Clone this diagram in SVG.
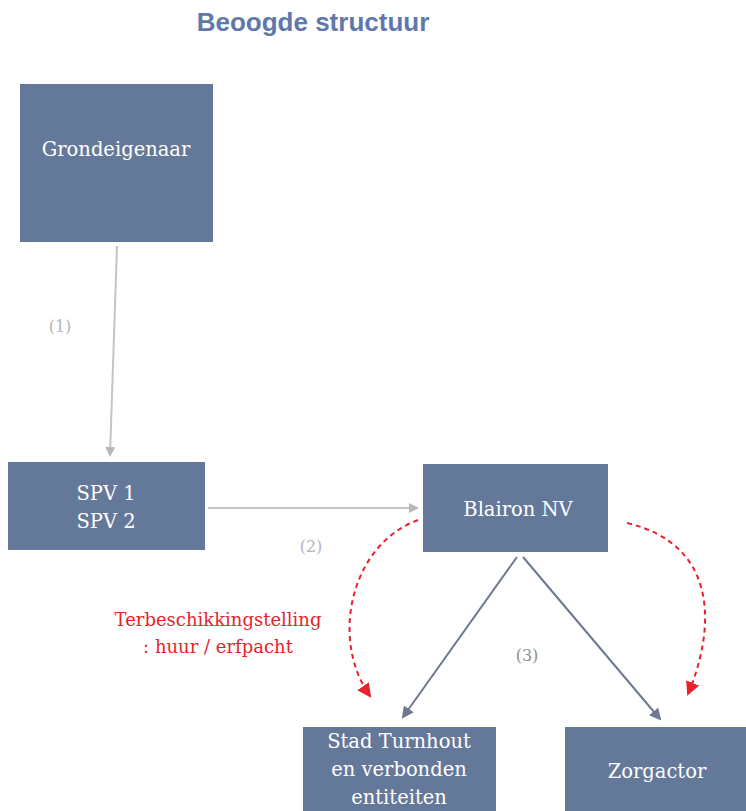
<svg xmlns="http://www.w3.org/2000/svg" width="746" height="811" viewBox="0 0 746 811">
<defs>
<style>
.box{fill:#647899;}
.serif{font-family:"DejaVu Serif","Liberation Serif",serif;}
.nt{font-size:19.5px;fill:#ffffff;text-anchor:middle;}
.lbl{font-size:16px;fill:#b5b5b5;text-anchor:middle;}
.gray{stroke:#c4c4c4;stroke-width:2;fill:none;}
.blue{stroke:#6d7891;stroke-width:2;fill:none;}
.red{stroke:#e8222a;stroke-width:2;fill:none;stroke-dasharray:5,4;}
</style>
<marker id="ag" markerWidth="10" markerHeight="10" refX="8" refY="5" orient="auto" markerUnits="userSpaceOnUse"><path d="M0,0 L10,5 L0,10 z" fill="#b8b8b8"/></marker>
<marker id="ab" markerWidth="12" markerHeight="12" refX="10" refY="6" orient="auto" markerUnits="userSpaceOnUse"><path d="M0,0 L12,6 L0,12 z" fill="#6d7891"/></marker>
<marker id="ar" markerWidth="14" markerHeight="14" refX="12" refY="7" orient="auto" markerUnits="userSpaceOnUse"><path d="M0,0 L14,7 L0,14 z" fill="#e8222a"/></marker>
</defs>
<rect width="746" height="811" fill="#ffffff"/>
<text x="313" y="31" font-family="'Liberation Sans',Arial,sans-serif" font-size="26" font-weight="bold" fill="#5f78aa" text-anchor="middle">Beoogde structuur</text>

<g id="connectors" class="serif">
<line class="gray" x1="117" y1="246" x2="110" y2="455" marker-end="url(#ag)"/>
<line class="gray" x1="208" y1="508" x2="417" y2="508" marker-end="url(#ag)"/>
<line class="blue" x1="517" y1="557" x2="403" y2="717" marker-end="url(#ab)"/>
<line class="blue" x1="523" y1="557" x2="660" y2="719" marker-end="url(#ab)"/>
<path class="red" d="M418,520 C350,545 330,640 370,696" marker-end="url(#ar)"/>
<path class="red" d="M627,523 C720,545 715,630 688,694" marker-end="url(#ar)"/>
<text class="lbl" x="60" y="332">(1)</text>
<text class="lbl" x="311" y="552">(2)</text>
<text class="lbl" x="527" y="661" style="fill:#8f8f8f">(3)</text>
<text x="218" y="626" font-size="18" fill="#e8222a" text-anchor="middle">Terbeschikkingstelling</text>
<text x="218" y="653" font-size="18" fill="#e8222a" text-anchor="middle">: huur / erfpacht</text>
</g>

<g id="grondeigenaar" class="serif">
<rect class="box" x="20" y="84" width="193" height="158"/>
<text class="nt" x="116" y="156">Grondeigenaar</text>
</g>
<g id="spv" class="serif">
<rect class="box" x="8" y="462" width="197" height="88"/>
<text class="nt" x="106" y="500">SPV 1</text>
<text class="nt" x="106" y="528">SPV 2</text>
</g>
<g id="blairon" class="serif">
<rect class="box" x="423" y="464" width="185" height="88"/>
<text class="nt" x="518" y="516">Blairon NV</text>
</g>
<g id="stad" class="serif">
<rect class="box" x="303" y="727" width="193" height="90"/>
<text class="nt" x="399" y="748">Stad Turnhout</text>
<text class="nt" x="399" y="776">en verbonden</text>
<text class="nt" x="399" y="804">entiteiten</text>
</g>
<g id="zorgactor" class="serif">
<rect class="box" x="565" y="727" width="185" height="90"/>
<text class="nt" x="657" y="778">Zorgactor</text>
</g>
</svg>
